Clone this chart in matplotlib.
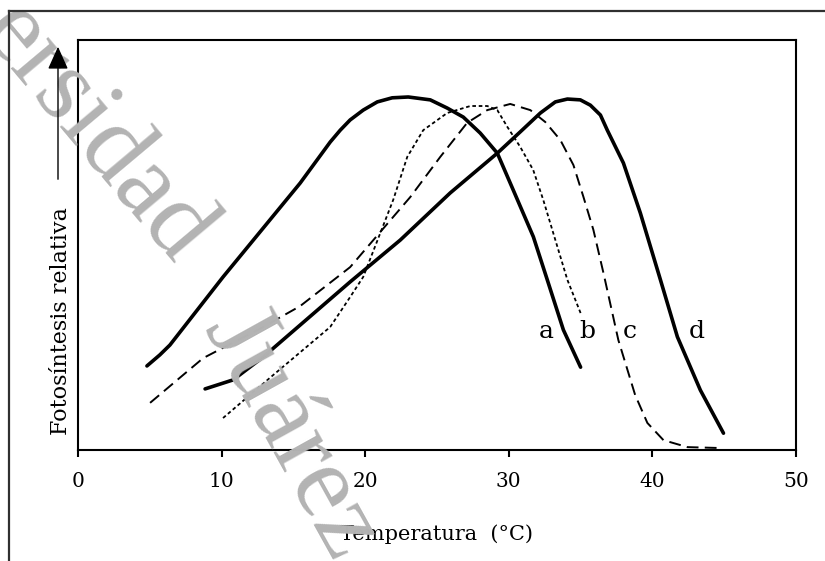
import matplotlib
matplotlib.use("Agg")
import matplotlib.pyplot as plt
from matplotlib.lines import Line2D
from matplotlib.patches import FancyArrowPatch

# ---- data ----
a_x = [4.8, 5.7, 6.4, 10.1, 15.47, 17.56, 18.26, 18.95, 19.86, 20.84, 21.88, 23.0, 24.53,
       25.71, 26.83, 28.01, 29.2, 30.31, 31.71, 32.68, 33.8, 35.0]
a_y = [20.5, 23.2, 25.6, 42.2, 65.1, 75.1, 78.0, 80.5, 82.9, 84.9, 85.9, 86.1, 85.4,
       83.4, 81.2, 77.3, 72.4, 63.4, 52.0, 41.5, 29.3, 20.2]

b_x = [10.1, 13.6, 17.56, 18.95, 19.86, 21.05, 21.95, 22.93, 24.04, 25.71, 27.32, 28.5,
       29.2, 29.9, 30.8, 31.7, 32.4, 33.45, 34.08, 35.0]
b_y = [7.8, 18.3, 30.0, 37.3, 42.2, 52.9, 61.0, 71.5, 78.0, 82.2, 83.9, 83.9,
       82.9, 78.8, 73.9, 68.3, 61.0, 48.8, 41.5, 33.4]

c_x = [5.02, 8.71, 12.89, 15.47, 18.95, 23.14, 25.23, 27.1, 28.5, 30.1, 31.5, 32.54,
       33.59, 34.5, 35.2, 35.89, 36.59, 37.63, 38.8, 39.65, 40.77, 42.44, 44.53]
c_y = [11.5, 22.4, 30.0, 35.1, 44.6, 61.7, 71.5, 79.8, 82.9, 84.4, 82.9, 80.0,
       75.6, 69.5, 61.7, 53.7, 43.2, 26.8, 13.4, 6.6, 2.4, 0.7, 0.5]

d_x = [8.85, 10.8, 12.9, 18.95, 22.44, 25.92, 29.2, 30.8, 32.2, 33.24, 34.08, 34.98,
       35.68, 36.38, 36.86, 37.98, 39.16, 40.56, 41.74, 43.34, 44.95]
d_y = [14.9, 17.1, 22.7, 41.0, 51.2, 62.7, 72.4, 77.6, 82.2, 84.9, 85.6, 85.4,
       84.1, 81.7, 78.0, 70.0, 57.8, 41.5, 27.6, 14.6, 4.1]

curve_names = ["a", "b", "c", "d"]
label_x = [32.6, 35.5, 38.4, 43.1]
label_y = [29.0, 29.0, 29.0, 29.0]

xticks = [0, 10, 20, 30, 40, 50]
xlabel = "Temperatura  (°C)"
ylabel = "Fotosíntesis relativa"
watermark_parts = ["ersidad", "Juárez"]

plt.rcParams["lines.scale_dashes"] = False
W, H = 825, 561
fig = plt.figure(figsize=(W / 100, H / 100), dpi=100)

# watermark (behind everything), following a gentle curve
wm_pos = [(95, 135), (290, 435)]
wm_rot = [-50, -61]
for txt, (px, py), rot in zip(watermark_parts, wm_pos, wm_rot):
    fig.text(px / W, 1 - py / H, txt, rotation=rot, rotation_mode="anchor",
             ha="center", va="center", fontsize=76, family="Liberation Serif",
             color="#b3b3b3", zorder=0)

# outer frame lines
fig.add_artist(Line2D([9 / W, 1.0], [1 - 11 / H, 1 - 11 / H], color="#303030", lw=1.6,
                      transform=fig.transFigure))
fig.add_artist(Line2D([9 / W, 9 / W], [1 - 11 / H, 0.0], color="#303030", lw=1.6,
                      transform=fig.transFigure))

ax = fig.add_axes([78 / W, 1 - 450 / H, (796 - 78) / W, (450 - 40) / H])
ax.patch.set_alpha(0)
ax.set_xlim(0, 50)
ax.set_ylim(0, 100)

ax.plot(a_x, a_y, color="black", lw=2.6, solid_joinstyle="round", solid_capstyle="round")
ax.plot(b_x, b_y, color="black", lw=1.3, linestyle=(0, (2.6, 2.0)))
ax.plot(c_x, c_y, color="black", lw=1.4, linestyle=(0, (8.5, 4.5)))
ax.plot(d_x, d_y, color="black", lw=2.6, solid_joinstyle="round", solid_capstyle="round")

for n, lx, ly in zip(curve_names, label_x, label_y):
    ax.text(lx, ly, n, ha="center", va="center", fontsize=18, family="DejaVu Serif")

for s in ax.spines.values():
    s.set_linewidth(1.5)
ax.set_xticks(xticks)
ax.set_xticklabels([str(t) for t in xticks], family="DejaVu Serif", fontsize=14.5)
ax.tick_params(axis="x", direction="out", length=5, width=1.5, pad=11)
ax.set_yticks([])
ax.set_xlabel(xlabel, family="DejaVu Serif", fontsize=15, labelpad=24)

# y label with arrow
fig.text(61 / W, 1 - 321 / H, ylabel, rotation=90, ha="center", va="center",
         family="DejaVu Serif", fontsize=16)
fig.add_artist(FancyArrowPatch(
    (58 / W, 1 - 182 / H), (58 / W, 1 - 44 / H), transform=fig.transFigure,
    arrowstyle="-|>,head_length=1.0,head_width=0.45", mutation_scale=14,
    color="black", lw=1.0))

fig.savefig("out.png", dpi=100)
